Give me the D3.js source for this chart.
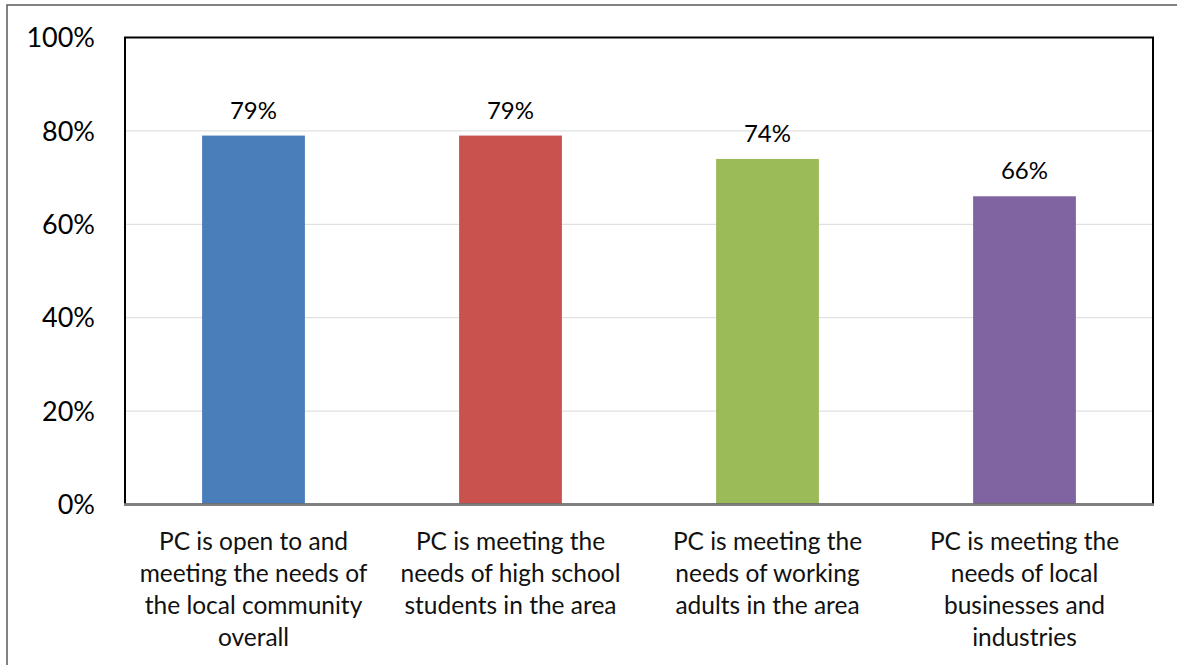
<!DOCTYPE html>
<html>
<head>
<meta charset="utf-8">
<script src="https://cdn.jsdelivr.net/npm/d3@7"></script>
<style>
  html, body { margin: 0; padding: 0; background: #fff; }
  svg { display: block; font-family: Lato, "Open Sans", sans-serif; }
</style>
</head>
<body>
<svg id="chart" width="1177" height="665"></svg>
<script>
// Survey categories (line breaks mark where the axis label wraps)
const categories = [
  "PC is open to and\nmeeting the needs of\nthe local community\noverall",
  "PC is meeting the\nneeds of high school\nstudents in the area",
  "PC is meeting the\nneeds of working\nadults in the area",
  "PC is meeting the\nneeds of local\nbusinesses and\nindustries"
];
const values = [79, 79, 74, 66];
const barColors = ["#4A7EBB", "#C9524F", "#9BBB59", "#8064A2"];
const yTicks = [0, 20, 40, 60, 80, 100];

const svg = d3.select("#chart");
const plot = { left: 125, right: 1153, top: 37.5, bottom: 504.5 };

const x = d3.scaleBand()
  .domain(d3.range(categories.length))
  .range([plot.left, plot.right])
  .paddingInner(0.6)
  .paddingOuter(0.3);

const y = d3.scaleLinear()
  .domain([0, 100])
  .range([plot.bottom, plot.top]);

// outer chart border
svg.append("rect")
  .attr("x", 7).attr("y", 5)
  .attr("width", 1200).attr("height", 700)
  .attr("fill", "none")
  .attr("stroke", "#595959")
  .attr("stroke-width", 1.5);

// horizontal gridlines
svg.append("g")
  .selectAll("line")
  .data(yTicks.filter(t => t > 0 && t < 100))
  .join("line")
  .attr("x1", plot.left).attr("x2", plot.right)
  .attr("y1", d => y(d)).attr("y2", d => y(d))
  .attr("stroke", "#d9d9d9")
  .attr("stroke-width", 1);

// bars
svg.append("g")
  .selectAll("rect")
  .data(values)
  .join("rect")
  .attr("x", (d, i) => x(i))
  .attr("width", x.bandwidth())
  .attr("y", d => y(d))
  .attr("height", d => y(0) - y(d))
  .attr("fill", (d, i) => barColors[i]);

// plot area frame
svg.append("rect")
  .attr("x", plot.left).attr("y", plot.top)
  .attr("width", plot.right - plot.left)
  .attr("height", plot.bottom - plot.top)
  .attr("fill", "none")
  .attr("stroke", "#000")
  .attr("stroke-width", 2);

// category axis line
svg.append("line")
  .attr("x1", plot.left - 1).attr("x2", plot.right + 1)
  .attr("y1", plot.bottom).attr("y2", plot.bottom)
  .attr("stroke", "#808080")
  .attr("stroke-width", 2.5);

// value labels above bars
svg.append("g")
  .selectAll("text")
  .data(values)
  .join("text")
  .attr("x", (d, i) => x(i) + x.bandwidth() / 2)
  .attr("y", d => y(d) - 17)
  .attr("text-anchor", "middle")
  .attr("font-size", 24)
  .attr("fill", "#000")
  .text(d => d + "%");

// value axis tick labels
svg.append("g")
  .selectAll("text")
  .data(yTicks)
  .join("text")
  .attr("x", 95)
  .attr("y", d => y(d))
  .attr("dy", "0.36em")
  .attr("text-anchor", "end")
  .attr("font-size", 27)
  .attr("fill", "#000")
  .text(d => d + "%");

// wrapped category labels
const cat = svg.append("g")
  .selectAll("text")
  .data(categories)
  .join("text")
  .attr("text-anchor", "middle")
  .attr("font-size", 24.5)
  .attr("fill", "#111");

cat.selectAll("tspan")
  .data((d, i) => d.split("\n").map(line => ({ line, i })))
  .join("tspan")
  .attr("x", d => x(d.i) + x.bandwidth() / 2)
  .attr("y", (d, k) => 550 + k * 32)
  .text(d => d.line);
</script>
</body>
</html>
